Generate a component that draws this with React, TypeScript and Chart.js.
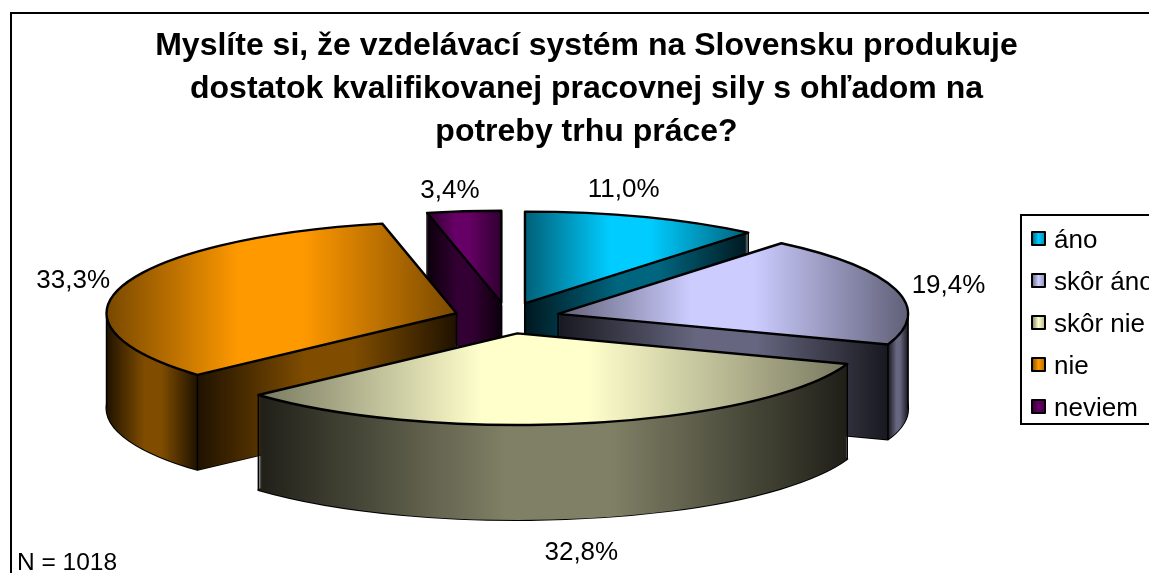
import React, { useEffect, useRef } from "react";
import { Chart, registerables } from "chart.js";

Chart.register(...registerables);

const categories = ["áno", "skôr áno", "skôr nie", "nie", "neviem"];
const shares = [11.0, 19.4, 32.8, 33.3, 3.4];
const baseColors = ["#00ccff", "#ccccff", "#ffffcc", "#ff9900", "#660066"];
const titleLines = [
  "Myslíte si, že vzdelávací systém na Slovensku produkuje",
  "dostatok kvalifikovanej pracovnej sily s ohľadom na",
  "potreby trhu práce?",
];
const sampleNote = "N = 1018";
const labelNudgeX = [-20, 53, -5, -50, -14];
const labelNudgeY = [-27, -4, 130, -4, -20];

const FONT = '"Liberation Sans", Arial, sans-serif';
const CENTER_X = 507;
const CENTER_Y = 318;
const RADIUS = 350;
const SQUASH = 0.262;
const EXPLODE = 53;
const EXPLODE_Y = 0.295;
const DEPTH = 95;
const LEGEND_BOX = { left: 1021, top: 215, bottom: 424 };
const LEGEND_FONT = 26;
const LEGEND_GAP = 16;
const SWATCH = { left: 1032, top: 232, size: 13 };

function shade(hex: string, f: number) {
  const n = parseInt(hex.slice(1), 16);
  const r = Math.round(((n >> 16) & 255) * f);
  const g = Math.round(((n >> 8) & 255) * f);
  const b = Math.round((n & 255) * f);
  return `rgb(${r},${g},${b})`;
}

function swatchGradient(ctx: CanvasRenderingContext2D, hex: string, x0: number, x1: number) {
  const g = ctx.createLinearGradient(x0, 0, x1, 0);
  g.addColorStop(0, shade(hex, 0.5));
  g.addColorStop(0.5, hex);
  g.addColorStop(1, shade(hex, 0.7));
  return g;
}

function geometry(el: any) {
  const a0 = el.startAngle;
  const a1 = el.endAngle;
  const xs = [el.x, el.x + RADIUS * Math.cos(a0), el.x + RADIUS * Math.cos(a1)];
  const extremes: number[] = [];
  [0, Math.PI].forEach((a) => {
    if (a > a0 && a < a1) {
      xs.push(el.x + RADIUS * Math.cos(a));
      extremes.push(a);
    }
  });
  return { a0, a1, min: Math.min(...xs), max: Math.max(...xs), extremes };
}

function applySlice(ctx: CanvasRenderingContext2D, el: any, depth: number) {
  const mid = (el.startAngle + el.endAngle) / 2;
  ctx.translate(CENTER_X + EXPLODE * Math.cos(mid), CENTER_Y + EXPLODE * EXPLODE_Y * Math.sin(mid) + depth);
  ctx.scale(1, SQUASH);
  ctx.translate(-el.x, -el.y);
}

function project(el: any, x: number, y: number, depth: number) {
  const mid = (el.startAngle + el.endAngle) / 2;
  return {
    x: CENTER_X + EXPLODE * Math.cos(mid) + (x - el.x),
    y: CENTER_Y + EXPLODE * EXPLODE_Y * Math.sin(mid) + SQUASH * (y - el.y) + depth,
  };
}

function slicePath(ctx: CanvasRenderingContext2D, el: any) {
  ctx.beginPath();
  ctx.moveTo(el.x, el.y);
  ctx.arc(el.x, el.y, RADIUS, el.startAngle, el.endAngle);
  ctx.closePath();
}

function drawSlice(ctx: CanvasRenderingContext2D, el: any, hex: string) {
  const geo = geometry(el);
  const span = geo.max - geo.min;
  const saved = el.options;

  const wall = ctx.createLinearGradient(geo.min, 0, geo.max, 0);
  const splits = [0];
  [geo.a0, geo.a1].forEach((a) => {
    const x = el.x + RADIUS * Math.cos(a);
    if (Math.sin(a) > 0 && x > geo.min + 2 && x < geo.max - 2) splits.push((x - geo.min) / span);
  });
  splits.push(1);
  for (let i = 0; i < splits.length - 1; i++) {
    const a = splits[i];
    const b = splits[i + 1];
    wall.addColorStop(a, shade(hex, 0.12));
    wall.addColorStop(a + 0.42 * (b - a), shade(hex, 0.5));
    wall.addColorStop(a + 0.6 * (b - a), shade(hex, 0.5));
    wall.addColorStop(b, shade(hex, 0.12));
  }

  ctx.lineJoin = "round";
  ctx.save();
  applySlice(ctx, el, DEPTH);
  slicePath(ctx, el);
  ctx.restore();
  ctx.strokeStyle = "#000";
  ctx.lineWidth = 2;
  ctx.stroke();

  el.options = { ...saved, backgroundColor: wall, borderWidth: 0 };
  for (let d = DEPTH; d >= 1; d--) {
    ctx.save();
    applySlice(ctx, el, d);
    el.draw(ctx);
    ctx.restore();
  }

  const edgeAngles = [geo.a0, geo.a1].filter((a) => {
    const x = el.x + RADIUS * Math.cos(a);
    return Math.sin(a) > 0 || x <= geo.min + 1 || x >= geo.max - 1;
  });
  const points = edgeAngles.concat(geo.extremes).map((a) => ({
    x: el.x + RADIUS * Math.cos(a),
    y: el.y + RADIUS * Math.sin(a),
  }));
  if (el.x <= geo.min + 1 || el.x >= geo.max - 1) points.push({ x: el.x, y: el.y });
  ctx.lineWidth = 1.5;
  ctx.strokeStyle = "#000";
  points.forEach((p) => {
    const t = project(el, p.x, p.y, 0);
    ctx.beginPath();
    ctx.moveTo(t.x, t.y);
    ctx.lineTo(t.x, t.y + DEPTH);
    ctx.stroke();
  });

  const top = ctx.createLinearGradient(geo.min, 0, geo.max, 0);
  top.addColorStop(0, shade(hex, 0.47));
  top.addColorStop(0.38, hex);
  top.addColorStop(0.56, hex);
  top.addColorStop(1, shade(hex, 0.47));
  el.options = { ...saved, backgroundColor: top, borderWidth: 0 };
  ctx.save();
  applySlice(ctx, el, 0);
  el.draw(ctx);
  slicePath(ctx, el);
  ctx.restore();
  ctx.strokeStyle = "#000";
  ctx.lineWidth = 2.4;
  ctx.stroke();

  el.options = saved;
}

const extrudedPie = {
  id: "extrudedPie",
  afterLayout(chart: any) {
    const t = chart.titleBlock;
    t.left = 24;
    t.right = 1149;
    t.top = 25;
    const l = chart.legend;
    l.left = 1015;
    l.top = 211.5;
    l.right = 1300;
    l.bottom = 573;
    l.width = l.right - l.left;
    l.height = l.bottom - l.top;
  },
  beforeDraw(chart: any) {
    const ctx = chart.ctx;
    ctx.save();
    ctx.fillStyle = "#fff";
    ctx.fillRect(0, 0, chart.width, chart.height);
    ctx.strokeStyle = "#000";
    ctx.lineWidth = 2;
    ctx.beginPath();
    ctx.moveTo(11, chart.height);
    ctx.lineTo(11, 13);
    ctx.lineTo(chart.width, 13);
    ctx.stroke();
    ctx.strokeRect(LEGEND_BOX.left, LEGEND_BOX.top, 300, LEGEND_BOX.bottom - LEGEND_BOX.top);
    ctx.restore();
  },
  beforeDatasetsDraw(chart: any) {
    const ctx = chart.ctx;
    const arcs = chart.getDatasetMeta(0).data;
    const order = arcs
      .map((el: any, i: number) => ({ el, i, s: Math.sin((el.startAngle + el.endAngle) / 2) }))
      .sort((a: any, b: any) => a.s - b.s);
    order.forEach(({ el, i }: any) => drawSlice(ctx, el, baseColors[i]));
    return false;
  },
  afterDraw(chart: any) {
    const ctx = chart.ctx;
    const arcs = chart.getDatasetMeta(0).data;
    ctx.save();
    categories.forEach((_, i) => {
      const y = SWATCH.top + i * (LEGEND_FONT + LEGEND_GAP);
      ctx.fillStyle = swatchGradient(ctx, baseColors[i], SWATCH.left, SWATCH.left + SWATCH.size);
      ctx.fillRect(SWATCH.left, y, SWATCH.size, SWATCH.size);
      ctx.strokeStyle = "#000";
      ctx.lineWidth = 2;
      ctx.strokeRect(SWATCH.left, y, SWATCH.size, SWATCH.size);
    });
    ctx.fillStyle = "#000";
    ctx.font = `26px ${FONT}`;
    ctx.textAlign = "center";
    ctx.textBaseline = "middle";
    arcs.forEach((el: any, i: number) => {
      const mid = (el.startAngle + el.endAngle) / 2;
      const p = project(el, el.x + RADIUS * Math.cos(mid), el.y + RADIUS * Math.sin(mid), 0);
      const text = shares[i].toFixed(1).replace(".", ",") + "%";
      ctx.fillText(text, p.x + labelNudgeX[i], p.y + labelNudgeY[i]);
    });
    ctx.textAlign = "left";
    ctx.font = `24.5px ${FONT}`;
    ctx.fillText(sampleNote, 17, 563);
    ctx.restore();
  },
};

export default function App() {
  const ref = useRef<HTMLCanvasElement | null>(null);
  useEffect(() => {
    document.body.style.margin = "0";
    const chart = new Chart(ref.current as HTMLCanvasElement, {
      type: "pie",
      data: {
        labels: categories,
        datasets: [{ data: shares, backgroundColor: baseColors, borderColor: "#000", borderWidth: 0 }],
      },
      options: {
        responsive: false,
        animation: false,
        radius: RADIUS,
        plugins: {
          tooltip: { enabled: false },
          title: {
            display: true,
            text: titleLines,
            color: "#000",
            padding: 0,
            font: { family: FONT, size: 32, weight: "bold", lineHeight: 1.34 },
          },
          legend: {
            display: true,
            position: "right",
            align: "start",
            labels: {
              color: "#000",
              boxWidth: 10,
              boxHeight: 10,
              padding: LEGEND_GAP,
              font: { family: FONT, size: LEGEND_FONT },
              generateLabels: () =>
                categories.map((text, i) => ({
                  text,
                  index: i,
                  datasetIndex: 0,
                  fillStyle: "rgba(0,0,0,0)",
                  strokeStyle: "rgba(0,0,0,0)",
                  lineWidth: 0,
                  hidden: false,
                })),
            },
          },
        },
      } as any,
      plugins: [extrudedPie as any],
    });
    return () => chart.destroy();
  }, []);
  return (
    <div style={{ position: "absolute", left: 0, top: 0, width: 1149, height: 573, overflow: "hidden" }}>
      <canvas ref={ref} width={1149} height={573} style={{ display: "block" }} />
    </div>
  );
}
